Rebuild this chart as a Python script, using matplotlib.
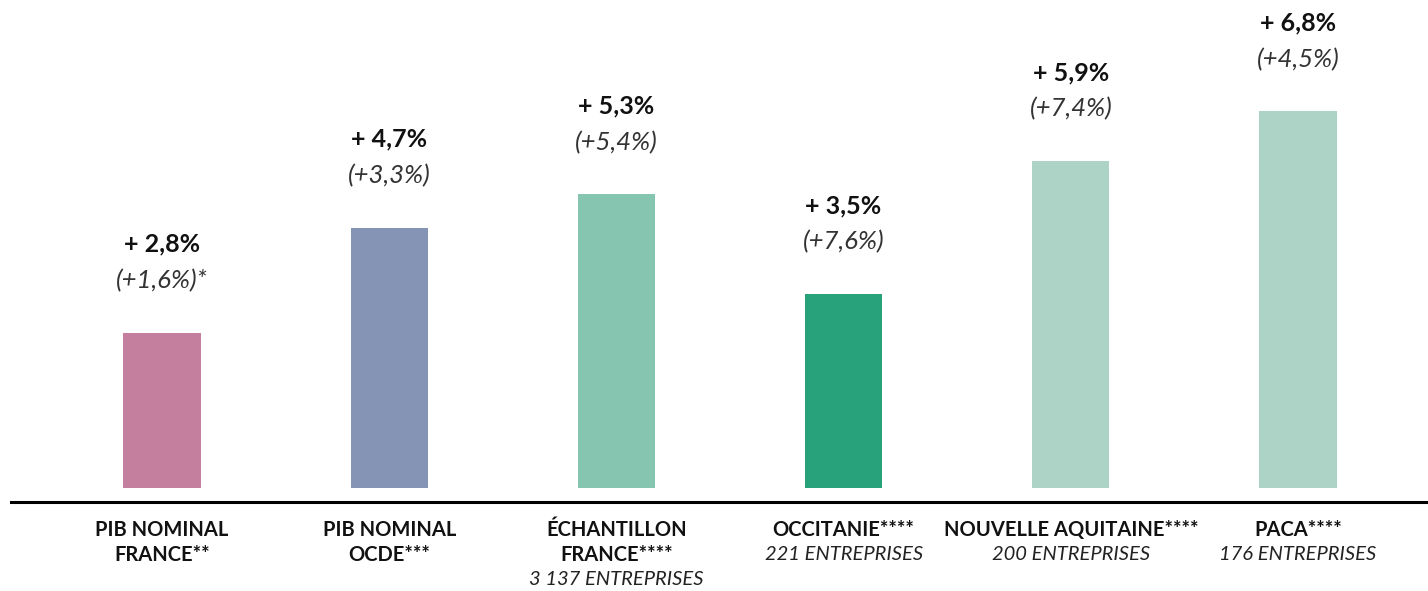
import matplotlib
matplotlib.use("Agg")
import matplotlib.pyplot as plt

# data
categories = ["PIB NOMINAL\nFRANCE**", "PIB NOMINAL\nOCDE***", "ÉCHANTILLON\nFRANCE****",
              "OCCITANIE****", "NOUVELLE AQUITAINE****", "PACA****"]
subtitles = ["", "", "3 137 ENTREPRISES", "221 ENTREPRISES", "200 ENTREPRISES", "176 ENTREPRISES"]
values = [2.8, 4.7, 5.3, 3.5, 5.9, 6.8]
value_labels = ["+ 2,8%", "+ 4,7%", "+ 5,3%", "+ 3,5%", "+ 5,9%", "+ 6,8%"]
prev_labels = ["(+1,6%)*", "(+3,3%)", "(+5,4%)", "(+7,6%)", "(+7,4%)", "(+4,5%)"]
colors = ["#C47E9E", "#8593B5", "#86C5AF", "#27A27A", "#ACD3C6", "#ACD3C6"]

plt.rcParams['font.family'] = ['Lato', 'DejaVu Sans']

fig = plt.figure(figsize=(14.28, 5.91), dpi=100)
ax = fig.add_axes([0, 0, 1, 1])
ax.set_xlim(-0.713, 5.572)
ax.set_ylim(-1.86, 8.81)
ax.axis("off")

x = list(range(len(values)))
ax.bar(x, values, width=0.34, color=colors)
ax.axhline(-0.25, xmin=0.008, xmax=1, color="black", lw=2.2)

for i, v in enumerate(values):
    ax.text(i, v + 1.6, value_labels[i], ha="center", va="center",
            fontsize=18, fontweight="bold", color="#111111")
    ax.text(i, v + 0.94, prev_labels[i], ha="center", va="center",
            fontsize=18.5, style="italic", color="#333333")
    lines = categories[i].split("\n")
    for j, line in enumerate(lines):
        ax.text(i, -0.76 - 0.45 * j, line, ha="center", va="center",
                fontsize=14.5, fontweight="bold", color="#111111")
    if subtitles[i]:
        ax.text(i, -0.76 - 0.45 * len(lines), subtitles[i], ha="center", va="center",
                fontsize=14.5, style="italic", color="#222222")

fig.savefig("out.png", dpi=100)
